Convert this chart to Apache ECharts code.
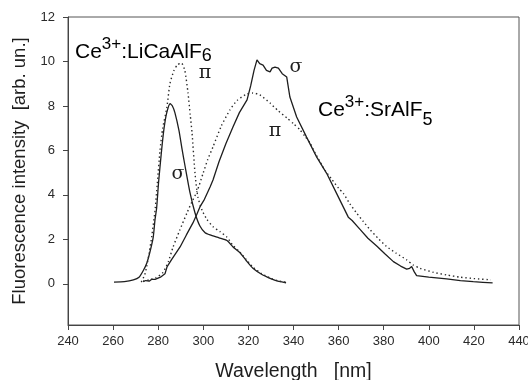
<!DOCTYPE html>
<html><head><meta charset="utf-8">
<script src="https://cdn.jsdelivr.net/npm/echarts@6/dist/echarts.min.js"></script>
<style>html,body{margin:0;padding:0;background:#fff}#c{width:528px;height:380px}</style>
</head><body><div id="c"></div>
<script>
// Ce3+:LiCaAlF6, sigma polarisation (solid)
const liCaSigmaX = [260.4,265,269,271.5,273.4,275,276.5,277.8,278.6,279.3,280.2,281.5,282.6,283.8,285.3,286.3,287.4,289.2,290.5,291.9,294.1,296.3,298.5,300.8,303,307,310.5,313.2,316.3,319,322,326,329.6,333,336.7];
const liCaSigmaY = [0.08,0.1,0.18,0.3,0.6,0.95,1.5,2.1,2.9,3.4,4.6,6.0,7.0,7.7,8.1,8.0,7.7,6.9,6.1,5.3,4.1,3.2,2.6,2.3,2.2,2.07,1.95,1.66,1.4,1.05,0.7,0.42,0.25,0.12,0.05];
// Ce3+:LiCaAlF6, pi polarisation (dotted)
const liCaPiX = [272.5,274,274.9,276,277.1,278.6,279.6,280.8,282,283.8,285.2,287,288.5,290.3,291.8,293.2,294.2,295,296.3,297.6,299.5,301.6,304.5,307.4,310.5,313,316,319,322,326,330,333,336.5];
const liCaPiY = [0.08,0.4,0.78,1.4,2.1,3.3,4.5,6.0,7.0,7.9,9.0,9.6,9.85,9.93,9.6,8.6,7.6,6.8,5.0,3.9,3.3,2.9,2.55,2.35,2.1,1.75,1.45,1.1,0.75,0.45,0.25,0.14,0.07];
// Ce3+:SrAlF5, sigma polarisation (solid)
const srSigmaX = [273.3,274.5,276,277,278.6,281,283,283.9,286,289.7,292.5,295.4,297,298.5,300.5,303,304.3,307,310,313.2,316,319.4,321,322.5,323.8,325,326.5,328,329.6,330.5,331.8,333.3,335,337,338.4,341.4,345.8,350.3,354.7,359.1,364.3,366,369.5,373,376.9,380.5,384.3,387.5,390.2,391.5,392.4,393.5,394.6,400,407.9,414,419.7,424,428.3];
const srSigmaY = [0.1,0.15,0.12,0.2,0.2,0.3,0.45,0.76,1.1,1.66,2.2,2.74,3.1,3.46,3.8,4.36,4.67,5.5,6.3,7.06,7.7,8.27,8.9,9.6,10.07,9.9,9.84,9.6,9.53,9.7,9.75,9.7,9.45,9.3,8.4,7.5,6.6,5.7,4.97,4.07,3.0,2.85,2.45,2.05,1.7,1.35,1.0,0.8,0.66,0.7,0.78,0.55,0.37,0.3,0.22,0.15,0.1,0.07,0.04];
// Ce3+:SrAlF5, pi polarisation (dotted)
const srPiX = [273.3,276,279,282,284.5,286.6,289.5,292.8,295,297.2,300,302,304.3,308,311.8,315,319.4,322,325,329.6,333,337.1,340,342.9,345,347.3,349.5,351.7,354,357,360,362.1,365,368,371,374,377.5,381.3,385.5,390.2,393,396.1,402,407.9,414,420,427.5];
const srPiY = [0.12,0.18,0.28,0.5,1.0,1.66,2.4,3.2,3.7,4.15,5.0,5.6,6.16,7.1,7.82,8.25,8.54,8.58,8.5,8.13,7.8,7.46,7.2,6.92,6.65,6.34,5.9,5.5,5.1,4.7,4.3,4.07,3.6,3.18,2.8,2.43,2.05,1.68,1.38,1.08,0.85,0.7,0.52,0.4,0.3,0.24,0.18];
// axis ticks
const xTicks = [240,260,280,300,320,340,360,380,400,420,440];
const yTicks = [0,2,4,6,8,10,12];

const pairs = (xs, ys) => xs.map((x, i) => [x, ys[i]]);
const FONT = '"Liberation Sans", Arial, sans-serif';
const solid = {color:'#1e1e1e', width:1.3, type:'solid'};
const dotted = {color:'#2a2a2a', width:1.4, type:[1.4,2.8]};

const chart = echarts.init(document.getElementById('c'));
const tok = (size, pb) => ({fontSize:size, fontFamily:FONT, color:'#1e1e1e', verticalAlign:'bottom', padding:[0,0,pb,0]});
const richLi = {b:tok(21,4), sup:tok(17,14.6), sub:tok(18,2.4)};
const richSr = {b:tok(21,10), sup:tok(17,20.6), sub:tok(18,2.4)};
const greek = (txt, x, y) => ({type:'text', x:x, y:y, style:{text:txt, font:'19px "DejaVu Serif", serif', fill:'#1e1e1e', align:'center', verticalAlign:'middle'}});
chart.setOption({
  animation:false,
  backgroundColor:'#fff',
  grid:{left:68, right:9, top:17, bottom:55, show:true, borderColor:'#555', borderWidth:1, outerBoundsMode:'none', containLabel:false},
  xAxis:{type:'value', min:240, max:440, interval:20,
    name:'Wavelength   [nm]', nameLocation:'middle', nameGap:37,
    nameTextStyle:{fontSize:19.5, fontFamily:FONT, color:'#1e1e1e'},
    axisLine:{show:true, onZero:false, lineStyle:{color:'#444', width:1}},
    axisTick:{show:true, inside:false, length:5, lineStyle:{color:'#444'}},
    axisLabel:{fontSize:13, fontFamily:FONT, color:'#2a2a2a', margin:10},
    splitLine:{show:false}},
  yAxis:{type:'value', min:-1.85, max:12,
    name:'Fluorescence intensity  [arb. un.]', nameLocation:'middle', nameGap:38,
    nameTextStyle:{fontSize:18.5, fontFamily:FONT, color:'#1e1e1e'},
    axisLine:{show:true, onZero:false, lineStyle:{color:'#444', width:1}},
    axisTick:{show:true, inside:false, length:5, customValues:yTicks, lineStyle:{color:'#444'}},
    axisLabel:{fontSize:13, fontFamily:FONT, color:'#2a2a2a', margin:13, customValues:yTicks},
    splitLine:{show:false}},
  series:[
    {type:'line', data:pairs(liCaSigmaX, liCaSigmaY), showSymbol:false, lineStyle:solid, smooth:0.2},
    {type:'line', data:pairs(liCaPiX, liCaPiY), showSymbol:false, lineStyle:dotted, smooth:0.2},
    {type:'line', data:pairs(srSigmaX, srSigmaY), showSymbol:false, lineStyle:solid},
    {type:'line', data:pairs(srPiX, srPiY), showSymbol:false, lineStyle:dotted, smooth:0.2}
  ],
  graphic:[
    {type:'text', x:75, y:35.6, style:{text:'{b|Ce}{sup|3+}{b|:LiCaAlF}{sub|6}', rich:richLi}},
    {type:'text', x:318, y:93.6, style:{text:'{b|Ce}{sup|3+}{b|:SrAlF}{sub|5}', rich:richSr}},
    greek('π', 205, 73),
    greek('σ', 178, 174),
    greek('σ', 296, 67),
    greek('π', 275, 131)
  ]
});
</script></body></html>
